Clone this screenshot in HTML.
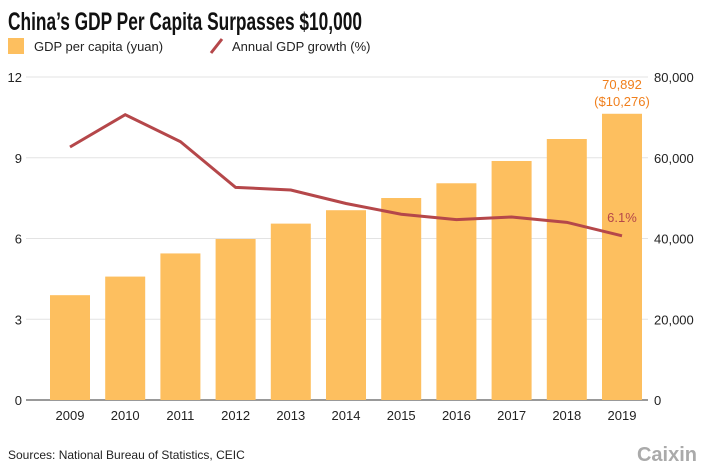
<!DOCTYPE html>
<html><head><meta charset="utf-8"><style>
body{margin:0;background:#fff;}
svg{display:block;font-family:"Liberation Sans",sans-serif;}
</style></head><body>
<svg id="c" width="705" height="470" viewBox="0 0 705 470">
<text x="8" y="30" font-size="25" font-weight="bold" fill="#111" textLength="354" lengthAdjust="spacingAndGlyphs">China’s GDP Per Capita Surpasses $10,000</text>
<rect x="8" y="38" width="16" height="16" fill="#fdbf5f"/>
<text x="34" y="51" font-size="13" fill="#222">GDP per capita (yuan)</text>
<line x1="211" y1="53" x2="222" y2="39" stroke="#b5474a" stroke-width="3"/>
<text x="232" y="51" font-size="13" fill="#222">Annual GDP growth (%)</text>
<g id="grid"></g><g id="bars"></g><g id="line"></g><g id="labels"></g>
<text x="8" y="459" font-size="12" fill="#222">Sources: National Bureau of Statistics, CEIC</text>
<text x="697" y="461" font-size="20" font-weight="bold" fill="#aaa" text-anchor="end">Caixin</text>
</svg>
<script>
const years=[2009,2010,2011,2012,2013,2014,2015,2016,2017,2018,2019];
const gdpPerCapita=[25963,30567,36302,39874,43684,47005,50028,53680,59201,64644,70892];
const growth=[9.4,10.6,9.6,7.9,7.8,7.3,6.9,6.7,6.8,6.6,6.1];
const leftTicks=[0,3,6,9,12];
const rightTicks=[0,20000,40000,60000,80000];
const NS='http://www.w3.org/2000/svg';
const y0=400,y1=77;
const yL=v=>y0-(v/12)*(y0-y1);
const yR=v=>y0-(v/80000)*(y0-y1);
const xC=i=>70+i*55.2;
function mk(t,a,p){const e=document.createElementNS(NS,t);for(const k in a)e.setAttribute(k,a[k]);document.getElementById(p).appendChild(e);return e;}
leftTicks.forEach((v,i)=>{
 const l=mk('line',{x1:26,x2:648,y1:yL(v),y2:yL(v),stroke:v===0?'#333':'#e3e3e3','stroke-width':1},'grid');
 
 
 const t=mk('text',{x:22,y:yL(v)+5,'font-size':13,fill:'#222','text-anchor':'end'},'grid');t.textContent=v;
 
 
});
rightTicks.forEach(v=>{
 const t=mk('text',{x:654,y:yR(v)+5,'font-size':13,fill:'#222'},'grid');t.textContent=v.toLocaleString('en-US');
 
 
});
years.forEach((yr,i)=>{
 const b=mk('rect',{x:xC(i)-20,y:yR(gdpPerCapita[i]),width:40,height:y0-yR(gdpPerCapita[i]),fill:'#fdbf5f'},'bars');
 
 
 const t=mk('text',{x:xC(i),y:y0+20,'font-size':13,fill:'#222','text-anchor':'middle'},'labels');t.textContent=yr;
 
 
});
const pts=growth.map((g,i)=>xC(i)+','+yL(g)).join(' ');
const pl=mk('polyline',{points:pts,fill:'none',stroke:'#b5474a','stroke-width':3,'stroke-linejoin':'miter'},'line');


const n=years.length-1;
const a1=mk('text',{x:xC(n),y:yR(gdpPerCapita[n])-25,'font-size':13,fill:'#f07f1c','text-anchor':'middle'},'labels');a1.textContent=gdpPerCapita[n].toLocaleString('en-US');


const a2=mk('text',{x:xC(n),y:yR(gdpPerCapita[n])-8,'font-size':13,fill:'#f07f1c','text-anchor':'middle'},'labels');a2.textContent='($10,276)';


const a3=mk('text',{x:xC(n),y:yL(growth[n])-14,'font-size':13,fill:'#b5474a','text-anchor':'middle'},'labels');a3.textContent=growth[n]+'%';


</script>
</body></html>
